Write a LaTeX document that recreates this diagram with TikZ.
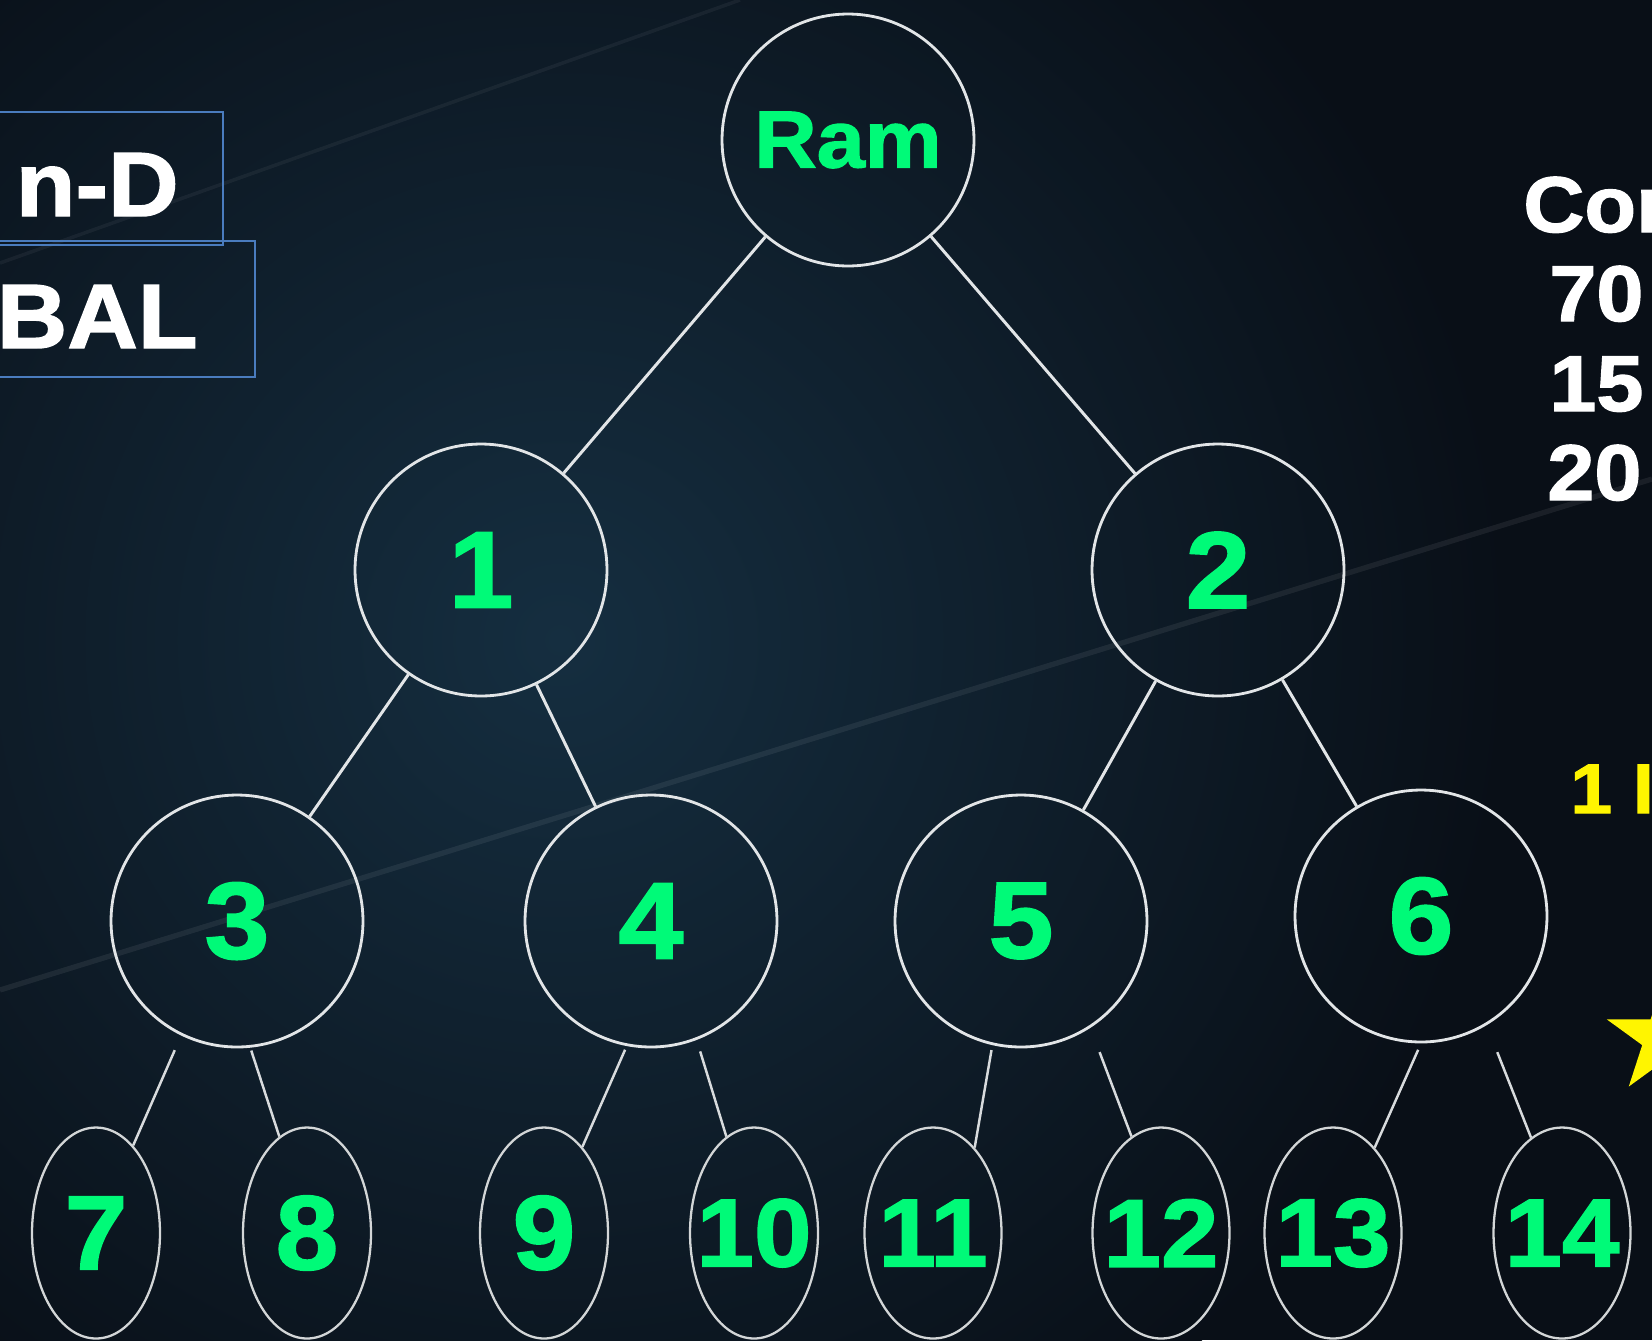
\documentclass[tikz,border=0pt]{standalone}
\usepackage{fontspec}
\setmainfont{Liberation Sans}[BoldFeatures={FakeBold=1.6,FakeStretch=1.07}]
\usetikzlibrary{shapes.geometric,shadings}
\definecolor{night}{RGB}{9,15,23}
\definecolor{glow}{RGB}{21,46,64}
\definecolor{mint}{RGB}{0,250,120}
\definecolor{chalk}{RGB}{226,229,231}
\definecolor{tagblue}{RGB}{74,124,190}
\definecolor{lemon}{RGB}{255,245,0}
\newcommand{\heavy}[1]{\fontsize{#1}{#1}\selectfont\bfseries}

\begin{document}
\begin{tikzpicture}[x=0.02cm, y=-0.02cm,
      person/.style={circle, draw=chalk, line width=1.6pt, minimum size=5.04cm,
        inner sep=-1cm, text=mint, font=\heavy{62}},
      leaf/.style={ellipse, draw=chalk!85!gray, line width=1.3pt, minimum width=2.56cm,
        minimum height=4.22cm, inner sep=-1cm, text=mint, font=\heavy{60}},
      wideleaf/.style={leaf, minimum width=2.74cm, font=\heavy{55}},
      link/.style={draw=chalk, line width=1.7pt},
      twig/.style={draw=chalk!90!gray, line width=1.4pt},
      tag/.style={draw=tagblue, line width=0.9pt},
      big/.style={text=white, font=\heavy{52}, inner sep=0pt, anchor=base east},
      side/.style={text=white, font=\heavy{45}, inner sep=0pt, anchor=base west}]
    \useasboundingbox (0,0) rectangle (1652,1340);
    \clip (0,0) rectangle (1652,1340);
    \fill[night] (0,0) rectangle (1652,1340);
    \shade[inner color=glow, outer color=night] (560,640) circle (950);
    \draw[white, opacity=0.05, line width=2pt] (0,263) -- (740,0);
    \draw[white, opacity=0.07, line width=3pt] (0,990) -- (1652,479);
    % the tree
    \node[person, font=\heavy{46}] (ram) at (848,140) {Ram};
    \node[person] (n1) at (481,570) {1};
    \node[person] (n2) at (1218,570) {2};
    \node[person] (n3) at (237,921) {3};
    \node[person] (n4) at (651,921) {4};
    \node[person] (n5) at (1021,921) {5};
    \node[person] (n6) at (1421,916) {6};
    \node[leaf] (n7) at (96,1233) {7};
    \node[leaf] (n8) at (307,1233) {8};
    \node[leaf] (n9) at (544,1233) {9};
    \node[leaf, font=\heavy{55}] (n10) at (754,1233) {10};
    \node[wideleaf] (n11) at (933,1233) {11};
    \node[wideleaf] (n12) at (1161,1233) {12};
    \node[wideleaf] (n13) at (1333,1233) {13};
    \node[wideleaf] (n14) at (1562,1233) {14};
    \draw[link] (ram) -- (n1);
    \draw[link] (ram) -- (n2);
    \draw[link] (n1) -- (n3);
    \draw[link] (n1) -- (n4);
    \draw[link] (n2) -- (n5);
    \draw[link] (n2) -- (n6);
    \draw[twig, shorten <=0.32cm] (n3.-116) -- (n7.67);
    \draw[twig, shorten <=0.06cm] (n3.-84) -- (n8.106);
    \draw[twig, shorten <=0.08cm] (n4.-101) -- (n9.66);
    \draw[twig, shorten <=0.24cm] (n4.-69) -- (n10.106);
    \draw[twig, shorten <=0.10cm] (n5.-103) -- (n11.64);
    \draw[twig, shorten <=0.52cm] (n5.-57) -- (n12.107);
    \draw[twig, shorten <=0.14cm] (n6.-90) -- (n13.64);
    \draw[twig, shorten <=0.58cm] (n6.-59) -- (n14.108);
    % left tags
    \draw[tag] (-10,112) rectangle (223,245);
    \draw[tag] (-10,241) rectangle (255,377);
    \node[big] (nd) at (179,216) {n-D};
    \node[big] (bal) at (198,348) {BAL};
    % right side, cut by the frame
    \node[side] (con) at (1523,232) {Con};
    \node[side] (p70) at (1549,321) {70};
    \node[side] (p15) at (1549,411) {15};
    \node[side] (p20) at (1547,500) {20};
    \node[side, text=lemon, font=\heavy{40}] (one) at (1570,813) {1 I};
    \node[star, star points=5, star point ratio=2.618, fill=lemon, minimum size=2.4cm,
      inner sep=0pt] (mark) at (1664,1038) {};
  \end{tikzpicture}
\end{document}
